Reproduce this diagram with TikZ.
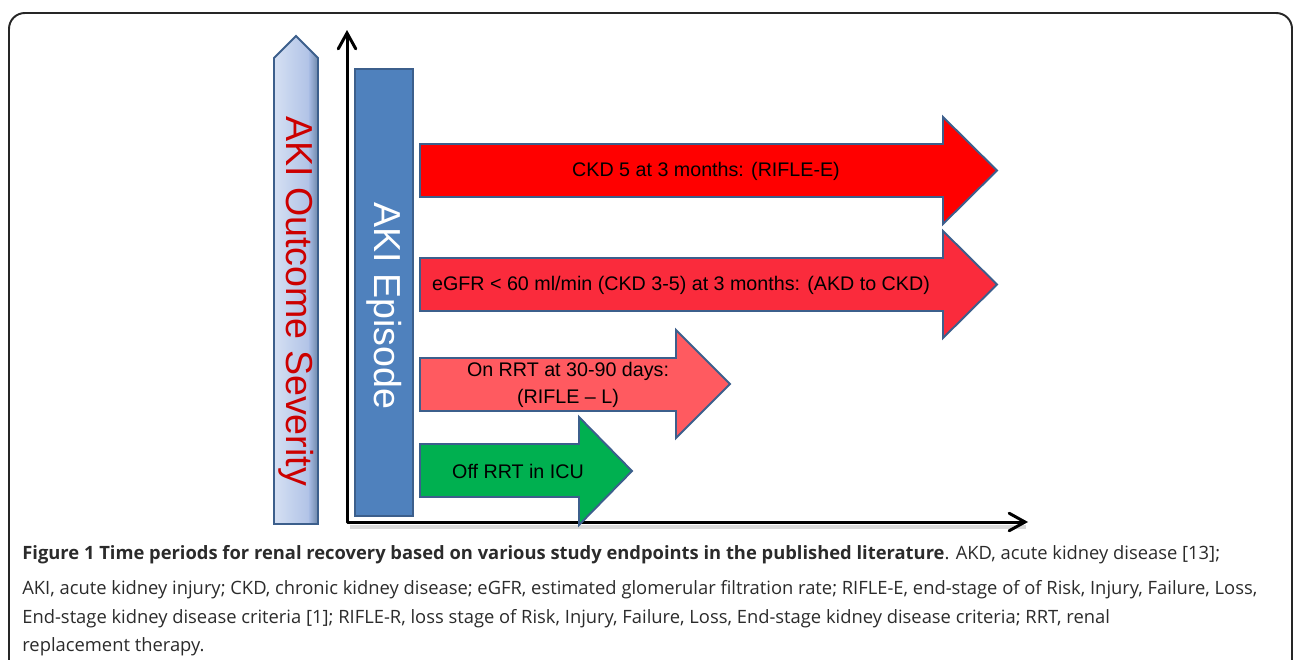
\documentclass[tikz,border=0pt]{standalone}
\usepackage{fontspec}
\setmainfont{Liberation Sans}
\newfontfamily\capfont{Open Sans}
\usepackage{tikz}
\usetikzlibrary{arrows.meta}
\definecolor{EdgeBlue}{HTML}{3C5F8C}
\definecolor{EpisodeBlue}{HTML}{4F81BD}
\definecolor{SevLight}{HTML}{D5E0F3}
\definecolor{SevDark}{HTML}{A7BBE3}
\definecolor{SevRed}{HTML}{CC0000}
\definecolor{StageE}{HTML}{FF0000}
\definecolor{StageCKD}{HTML}{FA2B3C}
\definecolor{StageL}{HTML}{FF5A60}
\definecolor{OffGreen}{HTML}{00B050}
\definecolor{CapGray}{HTML}{2B2B2B}

\tikzset{
  band/.style={draw=EdgeBlue, line width=1.1pt, line join=miter},
  bandtext/.style={font=\fontsize{11.2}{15}\selectfont, text=black, align=center},
  axisline/.style={line width=1.7pt, line join=round, line cap=round,
    {Straight Barb[length=9pt,width=10pt,line cap=round]}-{Straight Barb[length=9pt,width=10pt,line cap=round]}},
  capline/.style={anchor=base west, inner sep=0pt, text=CapGray,
    font=\capfont\fontsize{10.45}{14}\selectfont}
}

\begin{document}
\begin{tikzpicture}[x=0.02cm, y=-0.02cm]
  \useasboundingbox (0,0) rectangle (1293,659);
  \clip (0,0) rectangle (1293,659);

  % --- cadre ---
  \draw[black!85, line width=1.1pt, rounded corners=9pt] (9,680) -- (9,13) -- (1292,13) -- (1292,680);

  % --- fleche de severite ---
  \shade[left color=SevLight, right color=SevDark]
    (274,524) -- (274,58) -- (296,36) -- (318,58) -- (318,524) -- cycle;
  \shade[left color=SevDark, right color=EdgeBlue!75]
    (309,524) -- (309,49) -- (318,58) -- (318,524) -- cycle;
  \draw[band] (274,524) -- (274,58) -- (296,36) -- (318,58) -- (318,524) -- cycle;
  \node[rotate=-90, text=SevRed, font=\fontsize{21.4}{24}\selectfont] (severity) at (296,301) {AKI Outcome Severity};

  % --- axes ---
  \coordinate (ytop) at (347,30);
  \coordinate (origin) at (347,522);
  \coordinate (xend) at (1028,522);
  \draw[gray!30, line width=2pt] (350,527) -- (1026,527);
  \draw[axisline] (ytop) -- (origin) -- (xend);

  % --- episode ---
  \fill[EpisodeBlue] (355,69) rectangle (413,516);
  \draw[EdgeBlue, line width=1.1pt] (355,69) rectangle (413,516);
  \node[rotate=-90, text=white, font=\fontsize{21.4}{24}\selectfont] (episode) at (384,306) {AKI Episode};

  % --- fleche CKD 5 ---
  \filldraw[band, fill=StageE]
    (420,144) -- (943,144) -- (943,117) -- (997,170.5) -- (943,224) -- (943,197) -- (420,197) -- cycle;
  \node[bandtext] (ckdfive) at (706,171) {CKD 5 at 3 months: (RIFLE-E)};

  % --- fleche AKD vers CKD ---
  \filldraw[band, fill=StageCKD]
    (420,258) -- (943,258) -- (943,231) -- (997,284.5) -- (943,338) -- (943,311) -- (420,311) -- cycle;
  \node[bandtext] (akdckd) at (681,285) {eGFR < 60 ml/min (CKD 3-5) at 3 months: (AKD to CKD)};

  % --- fleche RIFLE-L ---
  \filldraw[band, fill=StageL]
    (420,358) -- (676,358) -- (676,330) -- (730,384) -- (676,438) -- (676,411) -- (420,411) -- cycle;
  \node[bandtext] (rifleL) at (568,385) {On RRT at 30-90 days:\\(RIFLE -- L)};

  % --- fleche hors RRT ---
  \filldraw[band, fill=OffGreen]
    (420,444) -- (579,444) -- (579,417) -- (632,471) -- (579,525) -- (579,497) -- (420,497) -- cycle;
  \node[bandtext] (offrrt) at (518,471) {Off RRT in ICU};

  % --- legende ---
  \node[capline] (cap1) at (22,559) {\textbf{Figure 1 Time periods for renal recovery based on various study endpoints in the published literature}. AKD, acute kidney disease [13];};
  \node[capline] (cap2) at (22,594) {AKI, acute kidney injury; CKD, chronic kidney disease; eGFR, estimated glomerular filtration rate; RIFLE-E, end-stage of of Risk, Injury, Failure, Loss,};
  \node[capline] (cap3) at (22,623) {End-stage kidney disease criteria [1]; RIFLE-R, loss stage of Risk, Injury, Failure, Loss, End-stage kidney disease criteria; RRT, renal};
  \node[capline] (cap4) at (22,651) {replacement therapy.};
\end{tikzpicture}
\end{document}
